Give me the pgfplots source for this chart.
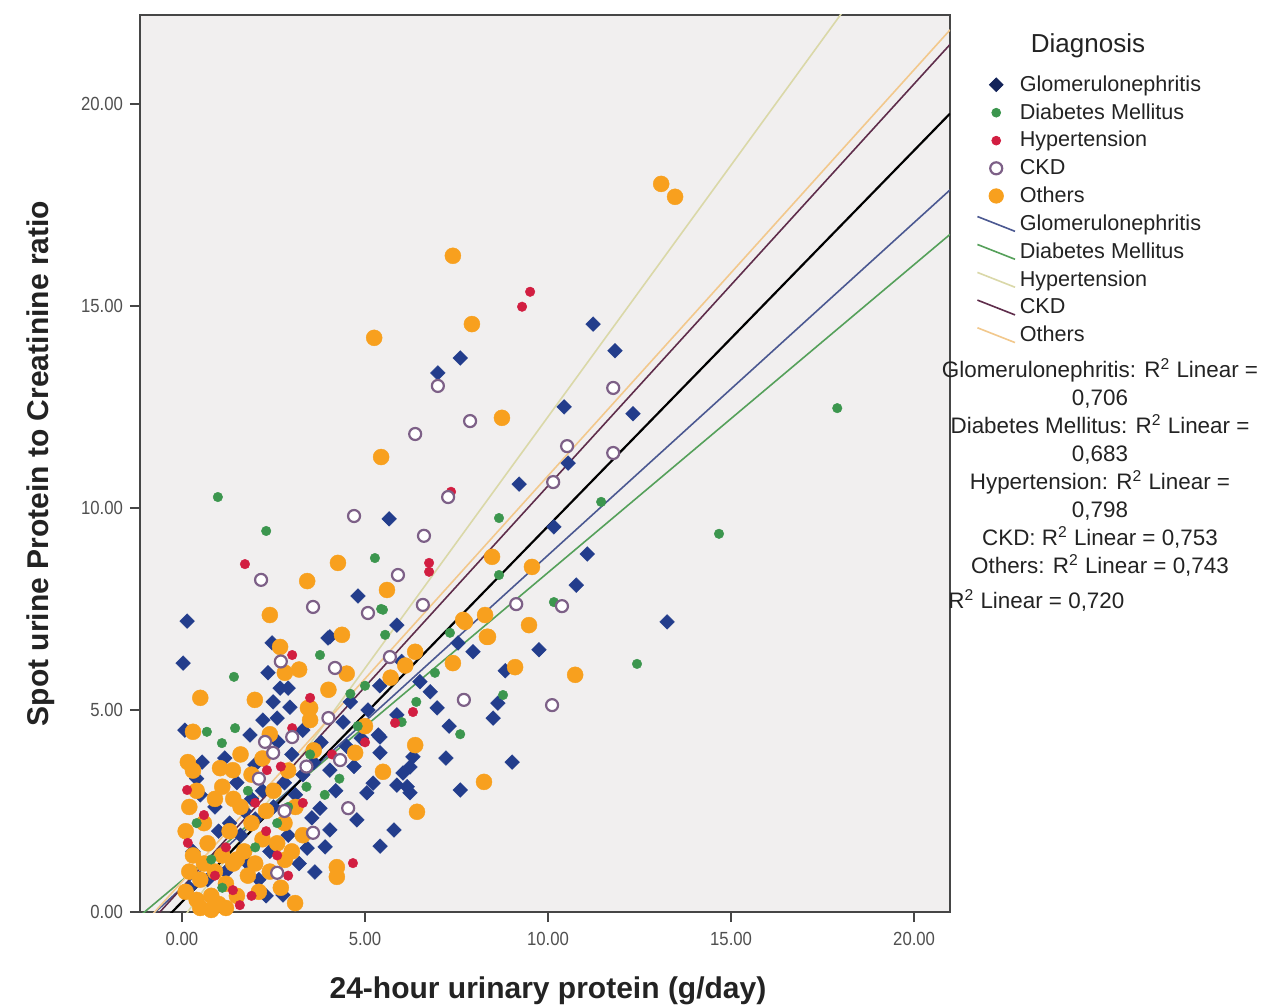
\documentclass[border=0pt]{standalone}
\usepackage{pgfplots}
\pgfplotsset{compat=1.18}
\usepackage{fontspec}
\setmainfont{Liberation Sans}
\newfontfamily\tickfont[FakeStretch=0.88]{Liberation Sans}
\definecolor{glom}{RGB}{35,61,140}
\definecolor{glomleg}{RGB}{20,36,90}
\definecolor{diab}{RGB}{60,150,78}
\definecolor{hyp}{RGB}{210,30,65}
\definecolor{ckd}{RGB}{125,96,135}
\definecolor{oth}{RGB}{248,160,30}
\definecolor{glomline}{RGB}{75,88,145}
\definecolor{diabline}{RGB}{85,160,90}
\definecolor{hypline}{RGB}{218,216,168}
\definecolor{ckdline}{RGB}{95,45,75}
\definecolor{othline}{RGB}{242,200,140}
\definecolor{plotbg}{RGB}{241,239,239}
\definecolor{axisgray}{RGB}{70,70,70}
\definecolor{txt}{RGB}{35,35,35}
\pgfplotsset{
  mleg/.style={legend image code/.code={\draw[##1] plot coordinates {(0cm,0cm)};}},
  lleg/.style={legend image code/.code={\draw[##1] (-0.33cm,0.13cm) -- (0.33cm,-0.13cm);}},
}
\begin{document}
\begin{tikzpicture}
\useasboundingbox (-70pt,-47.5pt) rectangle (561.5pt,456pt);
\fill[white] (-70pt,-47.5pt) rectangle (561.5pt,456pt);
\begin{axis}[
  scale only axis, width=405pt, height=448.5pt,
  xmin=-1.147, xmax=20.98, ymin=0, ymax=22.2,
  axis background/.style={fill=plotbg},
  axis line style={draw=axisgray, line width=1pt},
  tick style={draw=axisgray, line width=0.8pt},
  tick align=outside, major tick length=5pt,
  xtick pos=left, ytick pos=left,
  xtick={0,5,10,15,20}, xticklabels={0.00,5.00,10.00,15.00,20.00},
  ytick={0,5,10,15,20}, yticklabels={0.00,5.00,10.00,15.00,20.00},
  ticklabel style={font=\tickfont\fontsize{9.5}{11}\selectfont, text={rgb,255:red,80;green,80;blue,80}},
  xticklabel style={yshift=-1.5pt},
  xlabel={24-hour urinary protein (g/day)},
  ylabel={Spot urine Protein to Creatinine ratio},
  label style={font=\bfseries\fontsize{15}{18}\selectfont, text=txt},
  xlabel style={at={(axis description cs:0.5037,-0.0875)}, anchor=center},
  ylabel style={at={(axis description cs:-0.123,0.5)}, anchor=center},
  legend style={at={(axis description cs:1.025,0.9420)}, anchor=north west, draw=none, fill=none,
    font=\fontsize{10.8}{13}\selectfont, text=txt, row sep=0.65pt},
  legend cell align=left,
]
% Glomerulonephritis
\addplot[only marks, mark=square*, mark size=2.6pt, mark options={rotate=45, fill=glom, draw=glom, line width=0.2pt}, forget plot] coordinates {
(0.14,7.20) (0.03,6.16) (4.81,7.82) (5.66,9.73) (6.99,13.34) (7.60,13.71) (9.21,10.59) (11.23,14.55) (11.83,13.89) (10.44,12.50) (12.32,12.33) (10.55,11.11) (10.16,9.53) (11.07,8.86) (10.77,8.09) (13.25,7.18) (9.75,6.49) (8.83,5.97) (9.02,3.71) (7.21,3.81) (7.60,3.02) (5.79,2.03) (5.41,1.63) (5.87,7.10) (4.04,6.81) (7.95,6.44) (7.54,6.66) (8.50,4.80) (8.63,5.17) (6.31,3.84) (6.97,5.05) (6.78,5.45) (5.87,4.88) (5.41,4.33) (5.41,3.94) (6.04,3.44) (6.23,2.95) (6.15,3.10) (5.87,3.14) (5.05,2.95) (5.22,3.19) (4.78,2.28) (3.63,0.99) (3.91,1.61) (3.42,1.58) (4.04,2.03) (3.55,2.33) (3.77,2.57) (2.76,0.42) (5.08,5.00) (5.36,4.38) (6.23,3.59) (4.04,3.51) (2.46,6.66) (2.35,5.92) (2.68,5.54) (2.90,5.54) (2.49,5.20) (2.95,5.07) (2.21,4.75) (3.99,6.78) (0.08,4.50) (1.86,4.38) (2.62,4.21) (0.55,3.71) (1.17,3.81) (1.99,3.64) (0.5,2.9) (0.9,2.6) (1.3,2.2) (1.6,1.9) (1.9,2.8) (2.2,3.0) (2.5,2.6) (2.8,3.2) (3.1,2.9) (3.3,3.4) (1.2,1.0) (1.8,1.2) (2.1,0.8) (2.4,1.5) (2.9,1.9) (3.2,1.2) (0.3,1.5) (0.7,0.8) (1.5,3.2) (2.0,2.3) (3.6,3.7) (4.2,3.0) (4.5,4.1) (4.7,3.6) (3.0,3.9) (0.2,0.6) (2.3,0.4) (4.4,4.7) (4.9,4.3) (6.5,5.7) (7.3,4.6) (3.3,4.5) (1.0,2.0) (0.4,3.3) (1.7,2.5) (2.6,4.8) (3.8,4.2) (5.4,5.6) (6.0,6.2) (4.6,5.2)
};
% Others
\addplot[only marks, mark=*, mark size=4pt, mark options={fill=oth, draw=oth, line width=0.2pt}, forget plot] coordinates {
(13.09,18.02) (13.47,17.70) (7.40,16.24) (5.25,14.21) (7.92,14.55) (8.74,12.23) (5.44,11.26) (4.26,8.64) (3.42,8.19) (5.60,7.97) (8.47,8.79) (9.56,8.54) (2.40,7.35) (9.48,7.10) (8.36,6.81) (9.10,6.06) (10.74,5.87) (8.25,3.22) (6.37,4.13) (4.37,6.86) (7.68,7.23) (8.33,6.81) (7.40,6.16) (6.42,2.48) (4.23,1.11) (4.23,0.87) (3.09,0.22) (2.81,1.29) (6.37,6.44) (7.73,7.18) (8.28,7.35) (5.49,3.47) (4.73,3.94) (3.50,5.05) (3.50,4.75) (2.68,6.56) (2.81,5.92) (1.99,5.25) (3.44,5.05) (0.30,4.46) (0.16,3.71) (1.04,3.56) (1.39,3.51)
(0.1,0.5) (0.2,1.0) (0.3,1.4) (0.1,2.0) (0.4,0.3) (0.5,0.8) (0.6,1.2) (0.7,1.7) (0.8,0.4) (0.9,1.0) (1.0,0.2) (1.1,1.4) (1.2,0.7) (1.3,2.0) (1.4,1.2) (1.5,0.4) (1.6,2.6) (1.7,1.5) (1.8,0.9) (1.9,2.2) (2.0,1.2) (2.1,0.5) (2.2,1.8) (2.3,2.5) (2.4,1.0) (2.5,3.0) (2.6,1.7) (2.7,0.6) (2.8,2.2) (3.0,1.5) (3.1,2.6) (3.3,1.9) (0.2,2.6) (0.4,3.0) (0.6,2.2) (0.9,2.8) (1.1,3.1) (1.4,2.8) (0.5,0.1) (0.8,0.05) (1.2,0.1) (1.9,3.4) (2.2,3.8) (2.9,3.5) (3.6,4.0) (0.3,3.5) (1.6,3.9) (2.4,4.4) (4.0,5.5) (4.5,5.9) (5.0,4.6) (5.7,5.8) (6.1,6.1) (3.2,6.0) (0.5,5.3) (1.5,1.3)
};
% Diabetes Mellitus
\addplot[only marks, mark=*, mark size=2.4pt, mark options={fill=diab, draw=diab, line width=0.2pt}, forget plot] coordinates {
(0.98,10.27) (2.30,9.43) (5.27,8.76) (8.66,9.75) (5.44,7.50) (8.66,8.34) (11.45,10.15) (17.90,12.47) (14.67,9.36) (10.16,7.67) (12.43,6.14) (1.42,5.82) (3.77,6.36) (5.49,7.48) (5.55,6.86) (7.32,6.91) (8.77,5.37) (6.91,5.92) (0.68,4.46) (1.45,4.55) (1.09,4.18) (0.4,2.2) (1.8,3.0) (2.6,2.2) (3.4,3.1) (3.9,2.9) (4.6,5.4) (6.0,4.7) (5.0,5.6) (2.0,1.6) (1.1,0.6) (4.3,3.3) (0.8,1.3) (6.4,5.2) (7.6,4.4) (2.9,2.6) (3.5,3.9) (4.8,4.6)
};
% Hypertension
\addplot[only marks, mark=*, mark size=2.4pt, mark options={fill=hyp, draw=hyp, line width=0.2pt}, forget plot] coordinates {
(9.29,14.98) (9.51,15.35) (7.35,10.40) (1.72,8.61) (6.75,8.64) (6.75,8.42) (3.01,6.36) (6.31,4.95) (5.82,4.68) (3.01,4.55) (2.32,3.51) (1.39,0.54) (1.58,0.17) (0.16,1.71) (0.14,3.02) (4.67,1.21) (2.0,2.7) (1.2,1.6) (2.6,1.4) (2.3,2.0) (3.3,2.7) (4.1,3.9) (0.9,0.9) (2.9,0.9) (0.6,2.4) (5.0,4.2) (3.5,5.3) (1.9,0.4) (2.7,3.6)
};
% CKD
\addplot[only marks, mark=*, mark size=3pt, mark options={fill=white, draw=ckd, line width=1.1pt}, forget plot] coordinates {
(6.99,13.02) (7.87,12.15) (6.37,11.83) (7.27,10.27) (4.70,9.80) (6.61,9.31) (2.16,8.22) (5.90,8.34) (3.58,7.55) (5.08,7.40) (6.58,7.60) (9.13,7.62) (11.78,12.97) (10.52,11.53) (11.78,11.36) (10.14,10.64) (10.38,7.57) (10.11,5.12) (7.70,5.25) (4.18,6.04) (5.68,6.31) (4.54,2.57) (3.58,1.96) (2.60,0.97) (2.27,4.21) (3.01,4.33) (2.49,3.94) (4.32,3.76) (2.1,3.3) (3.4,3.6) (2.8,2.5) (2.7,6.2) (4.0,4.8)
};
% fit lines
\addplot[color=hypline, line width=0.8pt, forget plot] coordinates {(-1.147,-1.62) (20.98,25.93)};
\addplot[color=diabline, line width=0.8pt, forget plot] coordinates {(-1.147,-0.094) (20.98,16.77)};
\addplot[color=glomline, line width=0.8pt, forget plot] coordinates {(-1.147,-0.344) (20.98,17.87)};
\addplot[color=othline, line width=0.8pt, forget plot] coordinates {(-1.147,-0.403) (20.98,21.83)};
\addplot[color=ckdline, line width=0.8pt, forget plot] coordinates {(-1.147,-0.541) (20.98,21.47)};
\addplot[color=black, line width=1.1pt, forget plot] coordinates {(-1.147,-0.817) (20.98,19.76)};
% legend
\addlegendimage{only marks, mark=square*, mark size=2.4pt, mark options={rotate=45, fill=glomleg, draw=glomleg}, mleg}
\addlegendentry{Glomerulonephritis}
\addlegendimage{only marks, mark=*, mark size=2.2pt, mark options={fill=diab, draw=diab}, mleg}
\addlegendentry{Diabetes Mellitus}
\addlegendimage{only marks, mark=*, mark size=2.2pt, mark options={fill=hyp, draw=hyp}, mleg}
\addlegendentry{Hypertension}
\addlegendimage{only marks, mark=*, mark size=3pt, mark options={fill=white, draw=ckd, line width=1.1pt}, mleg}
\addlegendentry{CKD}
\addlegendimage{only marks, mark=*, mark size=3.6pt, mark options={fill=oth, draw=oth}, mleg}
\addlegendentry{Others}
\addlegendimage{color=glomline, line width=0.8pt, lleg}
\addlegendentry{Glomerulonephritis}
\addlegendimage{color=diabline, line width=0.8pt, lleg}
\addlegendentry{Diabetes Mellitus}
\addlegendimage{color=hypline, line width=0.8pt, lleg}
\addlegendentry{Hypertension}
\addlegendimage{color=ckdline, line width=0.8pt, lleg}
\addlegendentry{CKD}
\addlegendimage{color=othline, line width=0.8pt, lleg}
\addlegendentry{Others}
\end{axis}
\node[font=\fontsize{13}{15}\selectfont, text=txt] at (474pt,433pt) {Diagnosis};
\node[font=\fontsize{11.2}{13.95}\selectfont, text=txt, align=center, anchor=center] at (480pt,222.25pt)
  {Glomerulonephritis: R\textsuperscript{2} Linear =\\0,706\\Diabetes Mellitus: R\textsuperscript{2} Linear =\\0,683\\Hypertension: R\textsuperscript{2} Linear =\\0,798\\CKD: R\textsuperscript{2} Linear = 0,753\\Others: R\textsuperscript{2} Linear = 0,743};
\node[font=\fontsize{11.2}{13.95}\selectfont, text=txt, anchor=west, inner sep=0pt] at (404pt,156pt) {R\textsuperscript{2} Linear = 0,720};
\end{tikzpicture}
\end{document}
